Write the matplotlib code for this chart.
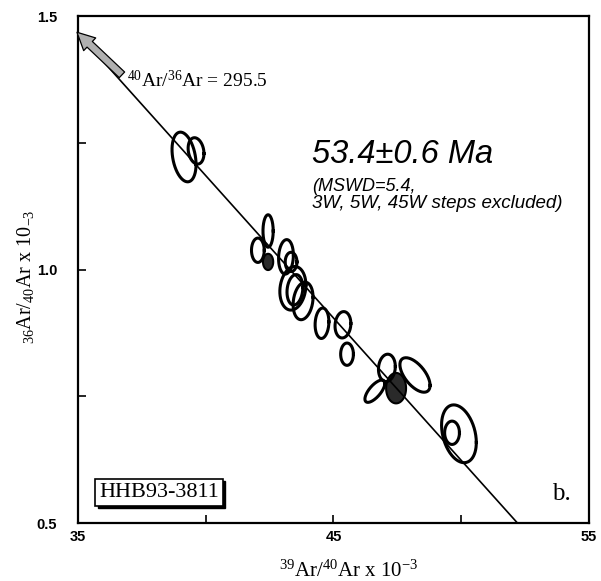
import numpy as np
import matplotlib
matplotlib.use('Agg')
import matplotlib.pyplot as plt
from matplotlib.patches import Rectangle

plt.rcParams['mathtext.fontset'] = 'custom'
plt.rcParams['mathtext.rm'] = 'Liberation Serif'
plt.rcParams['mathtext.it'] = 'Liberation Serif:italic'

# Isochrone: Fehlerellipsen (Mitte, halbe Ausdehnung in x und y, Korrelation)
ell_x   = [39.15, 39.62, 42.44, 42.04, 43.14, 43.34, 43.41, 43.49, 43.81,
           44.55, 45.37, 45.53, 47.09, 46.62, 48.19, 49.91, 49.64]
ell_y   = [1.222, 1.234, 1.076, 1.038, 1.025, 1.015, 0.963, 0.960, 0.938,
           0.894, 0.891, 0.833, 0.806, 0.760, 0.792, 0.676, 0.678]
ell_sx  = [0.47, 0.31, 0.20, 0.25, 0.29, 0.23, 0.51, 0.31, 0.39,
           0.27, 0.31, 0.25, 0.33, 0.39, 0.59, 0.68, 0.29]
ell_sy  = [0.049, 0.026, 0.032, 0.024, 0.034, 0.019, 0.043, 0.030, 0.037,
           0.030, 0.026, 0.022, 0.027, 0.022, 0.034, 0.057, 0.023]
ell_rho = [-0.3, -0.2, 0.0, 0.0, 0.1, 0.0, 0.15, 0.15, 0.2,
           0.1, 0.1, 0.0, 0.1, 0.7, -0.6, -0.3, 0.0]

# gefuellte Ellipsen
fill_x   = [42.44, 47.45]
fill_y   = [1.015, 0.766]
fill_sx  = [0.20, 0.39]
fill_sy  = [0.016, 0.030]

# Regressionsgerade
fit_x = [35.0, 52.2]
fit_y = [1.466, 0.5]

# Pfeil Richtung 40Ar/36Ar = 295.5
arrow_tip  = (34.96, 1.468)
arrow_tail = (36.72, 1.384)


def ellipse(cx, cy, sx, sy, rho, n=200):
    t = np.linspace(0, 2*np.pi, n)
    x = cx + sx*np.cos(t)
    y = cy + sy*(rho*np.cos(t) + np.sqrt(1 - rho**2)*np.sin(t))
    return x, y


fig = plt.figure(figsize=(6.01, 5.81), dpi=100)
ax = fig.add_axes([0.1298, 0.0998, 0.8502, 0.8726])

ax.plot(fit_x, fit_y, color='k', lw=1.2, solid_capstyle='butt')

for i in range(len(ell_x)):
    x, y = ellipse(ell_x[i], ell_y[i], ell_sx[i], ell_sy[i], ell_rho[i])
    ax.plot(x, y, color='k', lw=2.2)

for i in range(len(fill_x)):
    x, y = ellipse(fill_x[i], fill_y[i], fill_sx[i], fill_sy[i], 0.0)
    ax.fill(x, y, color='#2a2a2a', lw=1.5, ec='k')

ax.annotate('', xy=arrow_tip, xytext=arrow_tail,
            arrowprops=dict(arrowstyle='simple,head_length=0.9,head_width=0.9,tail_width=0.4',
                            fc='#b0b0b0', ec='k', lw=0.9, mutation_scale=14,
                            shrinkA=0, shrinkB=0),
            annotation_clip=False)

ax.text(0.096, 0.860, r'$^{40}$Ar/$^{36}$Ar = 295.5', transform=ax.transAxes,
        family='Liberation Serif', fontsize=14, va='baseline', ha='left')

ax.text(0.458, 0.710, '53.4\u00b10.6 Ma', transform=ax.transAxes,
        family='Liberation Sans', style='italic', fontsize=23.5, va='baseline')
ax.text(0.458, 0.655, '(MSWD=5.4,', transform=ax.transAxes,
        family='Liberation Sans', style='italic', fontsize=13, va='baseline')
ax.text(0.458, 0.621, '3W, 5W, 45W steps excluded)', transform=ax.transAxes,
        family='Liberation Sans', style='italic', fontsize=13.5, va='baseline')

# Probenname mit Schattenkasten
name = ax.text(0.1585, 0.0611, 'HHB93-3811', transform=ax.transAxes, family='Liberation Serif',
               fontsize=16, ha='center', va='center', zorder=5,
               bbox=dict(boxstyle='square,pad=0.18', fc='white', ec='k', lw=1.2))
fig.canvas.draw()
bb = name.get_bbox_patch().get_window_extent().transformed(ax.transAxes.inverted())
dx = 2.5 / (ax.bbox.width)
dy = 2.5 / (ax.bbox.height)
ax.add_patch(Rectangle((bb.x0 + dx, bb.y0 - dy), bb.width, bb.height, transform=ax.transAxes,
                       fc='k', ec='k', lw=1.0, zorder=4))

ax.text(0.9276, 0.045, 'b.', transform=ax.transAxes, family='Liberation Serif',
        fontsize=18, va='baseline', ha='left')

ax.set_xlim(35, 55)
ax.set_ylim(0.5, 1.5)
ax.set_xticks([35, 45, 55])
ax.set_xticks([40, 50], minor=True)
ax.set_yticks([0.5, 1.0, 1.5])
ax.set_yticks([0.75, 1.25], minor=True)
ax.set_xticklabels(['35', '45', '55'])
ax.set_yticklabels(['0.5', '1.0', '1.5'])
ax.tick_params(which='both', direction='in', length=6, width=1.2, top=False, right=False)
ax.tick_params(axis='x', pad=5)
ax.tick_params(axis='y', pad=15)
for lab in ax.get_xticklabels() + ax.get_yticklabels():
    lab.set_family('Liberation Sans')
    lab.set_fontweight('bold')
    lab.set_fontsize(10.5)
for sp in ax.spines.values():
    sp.set_linewidth(1.6)

ax.text(0.53, -0.095, r'$^{39}$Ar/$^{40}$Ar x 10$^{-3}$', transform=ax.transAxes,
        family='Liberation Serif', fontsize=15, ha='center', va='center')
ax.text(-0.103, 0.485, r'$_{36}$Ar/$_{40}$Ar x 10$_{-3}$', transform=ax.transAxes,
        family='Liberation Serif', fontsize=14.5, ha='center', va='center', rotation=90)

fig.savefig('out.png', dpi=100)
